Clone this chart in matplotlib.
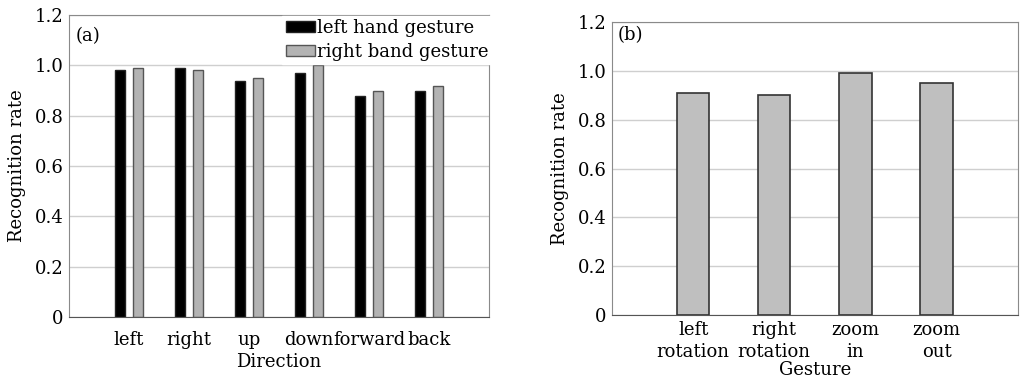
import numpy as np
import matplotlib.pyplot as plt

# Data
directions = ['left', 'right', 'up', 'down', 'forward', 'back']
left_hand = [0.98, 0.99, 0.94, 0.97, 0.88, 0.90]
right_hand = [0.99, 0.98, 0.95, 1.00, 0.90, 0.92]

gestures = ['left\nrotation', 'right\nrotation', 'zoom\nin', 'zoom\nout']
gesture_rate = [0.91, 0.90, 0.99, 0.95]

yticks = [0, 0.2, 0.4, 0.6, 0.8, 1.0, 1.2]
ytick_labels = ['0', '0.2', '0.4', '0.6', '0.8', '1.0', '1.2']

plt.rcParams['font.family'] = 'DejaVu Serif'
plt.rcParams['font.size'] = 13

fig = plt.figure(figsize=(10.22, 3.77), dpi=100)
ax1 = fig.add_axes([0.0675, 0.159, 0.411, 0.801])
ax2 = fig.add_axes([0.5988, 0.1645, 0.397, 0.777])


def style_axes(ax):
    ax.set_ylim(0, 1.2)
    ax.set_yticks(yticks)
    ax.set_yticklabels(ytick_labels)
    ax.grid(axis='y', color='#cfcfcf', linewidth=1)
    ax.set_axisbelow(True)
    ax.tick_params(axis='y', length=0, pad=4)
    for s in ['left', 'top', 'right']:
        ax.spines[s].set_color('#8a8a8a')
    ax.spines['bottom'].set_color('#555555')
    ax.set_ylabel('Recognition rate', labelpad=6)


# (a) direction gestures
x = np.arange(len(directions))
ax1.bar(x - 0.15, left_hand, width=0.18, color='black', edgecolor='#222222',
        linewidth=1, label='left hand gesture')
ax1.bar(x + 0.15, right_hand, width=0.18, color='#b3b3b3', edgecolor='#555555',
        linewidth=1, label='right band gesture')
ax1.set_xlim(-1, 6)
ax1.set_xticks(x)
ax1.set_xticklabels(directions)
style_axes(ax1)
ax1.tick_params(axis='x', length=0, pad=10)
ax1.set_xlabel('Direction', labelpad=3)
ax1.text(0.015, 0.93, '(a)', transform=ax1.transAxes, ha='left', va='center')
leg = ax1.legend(loc='upper right', bbox_to_anchor=(1.015, 1.01), frameon=True,
                 fancybox=False, edgecolor='white', framealpha=1,
                 handlelength=1.6, handleheight=0.55, handletextpad=0.1,
                 borderpad=0.2, labelspacing=0.3, borderaxespad=0.2)

# (b) operation gestures
xg = np.arange(len(gestures))
ax2.bar(xg, gesture_rate, width=0.4, color='#bfbfbf', edgecolor='#333333',
        linewidth=1.2)
ax2.set_xlim(-1, 4)
ax2.set_xticks(xg)
ax2.set_xticklabels(gestures)
for lbl in ax2.get_xticklabels():
    lbl.set_linespacing(1.3)
style_axes(ax2)
ax2.tick_params(axis='x', length=0, pad=4)
ax2.set_xlabel('Gesture', labelpad=0)
ax2.text(0.015, 0.955, '(b)', transform=ax2.transAxes, ha='left', va='center')

fig.savefig('out.png', dpi=100)
